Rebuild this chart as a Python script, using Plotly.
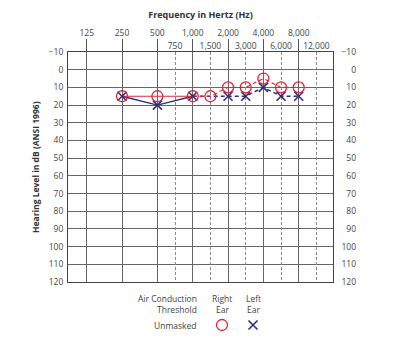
import plotly.graph_objects as go

# ---- data ----
octave_labels = ["125", "250", "500", "1,000", "2,000", "4,000", "8,000"]
half_labels = ["750", "1,500", "3,000", "6,000", "12,000"]
db_ticks = list(range(-10, 121, 10))

# frequency -> column position (octaves equally spaced, inter-octaves halfway)
freq_pos = {125: 0, 250: 1, 500: 2, 750: 2.5, 1000: 3, 1500: 3.5, 2000: 4,
            3000: 4.5, 4000: 5, 6000: 5.5, 8000: 6, 12000: 6.5}
octave_freqs = [125, 250, 500, 1000, 2000, 4000, 8000]
half_freqs = [750, 1500, 3000, 6000, 12000]

right_freqs = [250, 500, 1000, 1500, 2000, 3000, 4000, 6000, 8000]
right_db = [15, 15, 15, 15, 10, 10, 5, 10, 10]
left_freqs = [250, 500, 1000, 2000, 3000, 4000, 6000, 8000]
left_db = [15, 20, 15, 15, 15, 10, 15, 15]

RED = "#d8283a"
BLUE = "#2e2f7d"
TXT = "#444444"
FONT = "Open Sans"
FS = 8.5

rx = [freq_pos[f] for f in right_freqs]
lx = [freq_pos[f] for f in left_freqs]

fig = go.Figure()

def split(xs, ys, freqs):
    k = freqs.index(1000)
    return (xs[:k + 1], ys[:k + 1]), (xs[k:], ys[k:])

(ls_x, ls_y), (ld_x, ld_y) = split(lx, left_db, left_freqs)
(rs_x, rs_y), (rd_x, rd_y) = split(rx, right_db, right_freqs)

# dummy traces to activate the extra axes
fig.add_trace(go.Scatter(x=[None], y=[None], xaxis="x2", yaxis="y", showlegend=False, hoverinfo="skip"))
fig.add_trace(go.Scatter(x=[None], y=[None], yaxis="y3", showlegend=False, hoverinfo="skip"))

fig.add_trace(go.Scatter(x=ls_x, y=ls_y, mode="lines", line=dict(color=BLUE, width=1.4), showlegend=False, hoverinfo="skip"))
fig.add_trace(go.Scatter(x=ld_x, y=ld_y, mode="lines", line=dict(color=BLUE, width=1.4, dash="4px,3px"), showlegend=False, hoverinfo="skip"))
fig.add_trace(go.Scatter(x=rs_x, y=rs_y, mode="lines", line=dict(color=RED, width=1.1), showlegend=False, hoverinfo="skip"))
fig.add_trace(go.Scatter(x=rd_x, y=rd_y, mode="lines", line=dict(color=RED, width=1.1, dash="4px,3px"), showlegend=False, hoverinfo="skip"))

fig.add_trace(go.Scatter(x=lx, y=left_db, mode="markers", name=" ",
                         marker=dict(symbol="x-thin-open", size=9, line=dict(color=BLUE, width=1.6), color=BLUE),
                         legend="legend2", showlegend=True))
fig.add_trace(go.Scatter(x=rx, y=right_db, mode="markers", name=" ",
                         marker=dict(symbol="circle-open", size=11, line=dict(color=RED, width=1.3), color=RED),
                         legend="legend", showlegend=True))

xr = [-0.53, 6.97]
dom = [0, 265 / 300]

fig.update_layout(
    width=408, height=341,
    margin=dict(l=68, r=40, t=52, b=59, autoexpand=False),
    paper_bgcolor="white", plot_bgcolor="white",
    font=dict(family=FONT, size=FS, color=TXT),
    title=dict(text="<b>Frequency in Hertz (Hz)</b>", x=200.5 / 408, y=1 - 15 / 341,
               xanchor="center", yanchor="middle", font=dict(size=9, color="#333")),
    xaxis=dict(domain=dom, range=xr, side="top",
               tickvals=[freq_pos[f] for f in octave_freqs], ticktext=octave_labels,
               ticks="outside", ticklen=12, tickcolor="#555", tickwidth=1,
               showgrid=True, gridcolor="#666", gridwidth=1,
               showline=True, mirror=True, linecolor="#444", linewidth=1,
               zeroline=False, tickfont=dict(size=FS, color=TXT)),
    xaxis2=dict(overlaying="x", anchor="y", side="top", range=xr,
                tickvals=[freq_pos[f] for f in half_freqs], ticktext=half_labels,
                ticks="", showgrid=True, gridcolor="#888", griddash="3px,2px", gridwidth=1,
                showline=False, zeroline=False, tickfont=dict(size=FS, color=TXT)),
    yaxis=dict(range=[120, -10], tickvals=db_ticks, ticks="",
               showgrid=True, gridcolor="#666", gridwidth=1,
               showline=True, mirror=True, linecolor="#444", linewidth=1,
               zeroline=False, tickfont=dict(size=FS, color=TXT), ticklabelstandoff=2),
    yaxis3=dict(overlaying="y", anchor="free", position=(356 - 68) / 300, side="left",
                range=[120, -10], tickvals=db_ticks, ticks="", showgrid=False,
                showline=False, zeroline=False, tickfont=dict(size=FS, color=TXT)),
    legend=dict(x=(202 - 68) / 300, y=(282 - 325) / 230, xanchor="left", yanchor="middle",
                bgcolor="rgba(0,0,0,0)", borderwidth=0, font=dict(size=FS)),
    legend2=dict(x=(233 - 68) / 300, y=(282 - 325) / 230, xanchor="left", yanchor="middle",
                 bgcolor="rgba(0,0,0,0)", borderwidth=0, font=dict(size=FS)),
)

def px_x(p):
    return (p - 68) / 300

def px_y(p):
    return (282 - p) / 230

ann = [
    ("Air Conduction", 199, 298, "right"),
    ("Threshold", 199, 309, "right"),
    ("Unmasked", 199, 325, "right"),
    ("Right", 222, 298, "center"),
    ("Ear", 222, 309, "center"),
    ("Left", 253, 298, "center"),
    ("Ear", 253, 309, "center"),
]
for t, x, y, a in ann:
    fig.add_annotation(text=t, x=px_x(x), y=px_y(y), xref="paper", yref="paper",
                       xanchor=a, yanchor="middle", showarrow=False,
                       font=dict(size=FS, color=TXT))

fig.add_annotation(text="<b>Hearing Level in dB (ANSI 1996)</b>", x=px_x(35), y=0.5,
                   xref="paper", yref="paper", textangle=-90, xanchor="center", yanchor="middle",
                   showarrow=False, font=dict(size=FS, color="#333"))

fig.write_html("out.html")
